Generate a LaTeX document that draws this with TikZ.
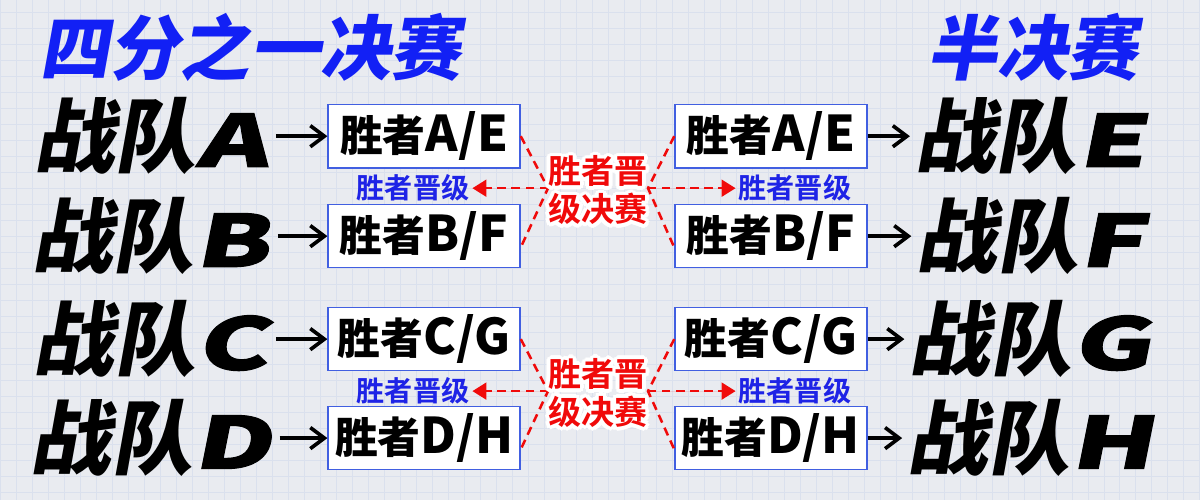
\documentclass[tikz,border=0pt]{standalone}
\usepackage{fontspec}
\usetikzlibrary{arrows.meta}
\newfontfamily\negrita[FakeSlant=0.18]{Noto Sans CJK SC Black}
\newfontfamily\ancha[FakeSlant=0.2, FakeStretch=1.5, FakeBold=1.5]{Noto Sans CJK SC Black}
\newfontfamily\gruesa{Noto Sans CJK SC Black}
\newfontfamily\media{Noto Sans CJK SC Bold}
\definecolor{fondo}{RGB}{233,235,240}
\definecolor{rejilla}{RGB}{218,224,237}
\definecolor{azultit}{RGB}{18,32,245}
\definecolor{azuletq}{RGB}{30,35,230}
\definecolor{bordecaja}{RGB}{65,95,225}
\definecolor{rojo}{RGB}{240,10,10}
% letra latina de los equipos y de las cajas
\newcommand{\letraeq}[1]{{\ancha\fontsize{51}{51}\selectfont #1}}
\newcommand{\letracj}[1]{{\gruesa\fontsize{35}{35}\selectfont #1}}
\tikzset{
  equipo/.style={font=\negrita\fontsize{58}{58}\selectfont, inner sep=3pt},
  titulo/.style={font=\negrita\fontsize{50}{50}\selectfont, text=azultit},
  caja/.style={draw=bordecaja, line width=1pt, fill=white, minimum width=4.8cm, minimum height=1.58cm, inner sep=0pt, font=\gruesa\fontsize{30.5}{32}\selectfont},
  avance/.style={font=\media\fontsize{20}{20}\selectfont, text=azuletq, inner sep=2pt},
  final/.style={font=\media\fontsize{23.5}{27}\selectfont, align=center, inner sep=0pt},
  flecha/.style={line width=2.6pt, -{Straight Barb[length=10pt,width=15pt]}},
  rayas/.style={draw=rojo, line width=1.8pt, dash pattern=on 6pt off 4pt}
}
\begin{document}
\begin{tikzpicture}[x=0.025cm, y=-0.025cm]
    % Fondo cuadriculado
    \fill[fondo] (0,0) rectangle (1200,500);
    \foreach \x in {0,16,...,1200}
        \draw[rejilla, line width=0.4pt] (\x,0) -- (\x,500);
    \foreach \y in {12,28,...,500}
        \draw[rejilla, line width=0.4pt] (0,\y) -- (1200,\y);
    \useasboundingbox (0,0) rectangle (1200,500);

    % Titulos
    \node[titulo] (tcuartos) at (250,47) {四分之一决赛};
    \node[titulo] (tsemis) at (1033,47) {半决赛};

    % Filas: equipo -> caja ... caja -> equipo
    \foreach \y/\l/\r/\n in {136/A/E/1, 236/B/F/2, 339/C/G/3, 438/D/H/4} {
        \node[equipo] (ti\n) at (150,\y) {战队\letraeq{\l}};
        \node[caja] (ci\n) at (424,\y) {胜者\letracj{\l/\r}};
        \node[caja] (cd\n) at (771,\y) {胜者\letracj{\l/\r}};
        \node[equipo] (td\n) at (1030,\y) {战队\letraeq{\r}};
        \draw[flecha, shorten <=3pt] (ti\n) -- (ci\n);
        \draw[flecha] (cd\n) -- (td\n);
    }

    % Cruces rojos
    \foreach \g/\a/\b/\y in {1/1/2/188, 2/3/4/391} {
        \coordinate (hi\g) at (548,\y);
        \coordinate (hd\g) at (648,\y);
        \node[avance] (ai\g) at (413,\y) {胜者晋级};
        \node[avance] (ad\g) at (795,\y) {胜者晋级};
        \draw[rayas] (ci\a.east) -- (hi\g) -- ([yshift=-8pt]ci\b.east);
        \draw[rayas] (cd\a.west) -- (hd\g) -- ([yshift=-8pt]cd\b.west);
        \draw[rayas, fill=rojo, -{Triangle[length=10pt,width=12pt]}] (hi\g) -- (ai\g);
        \draw[rayas, fill=rojo, -{Triangle[length=10pt,width=12pt]}] (hd\g) -- (ad\g);
        \foreach \ang in {0,22.5,...,337.5}
            \node[final, text=white, shift=(\ang:2.6pt)] at (598,\y+2) {胜者晋\\级决赛};
        \node[final, text=rojo] (f\g) at (598,\y+2) {胜者晋\\级决赛};
    }
\end{tikzpicture}
\end{document}
